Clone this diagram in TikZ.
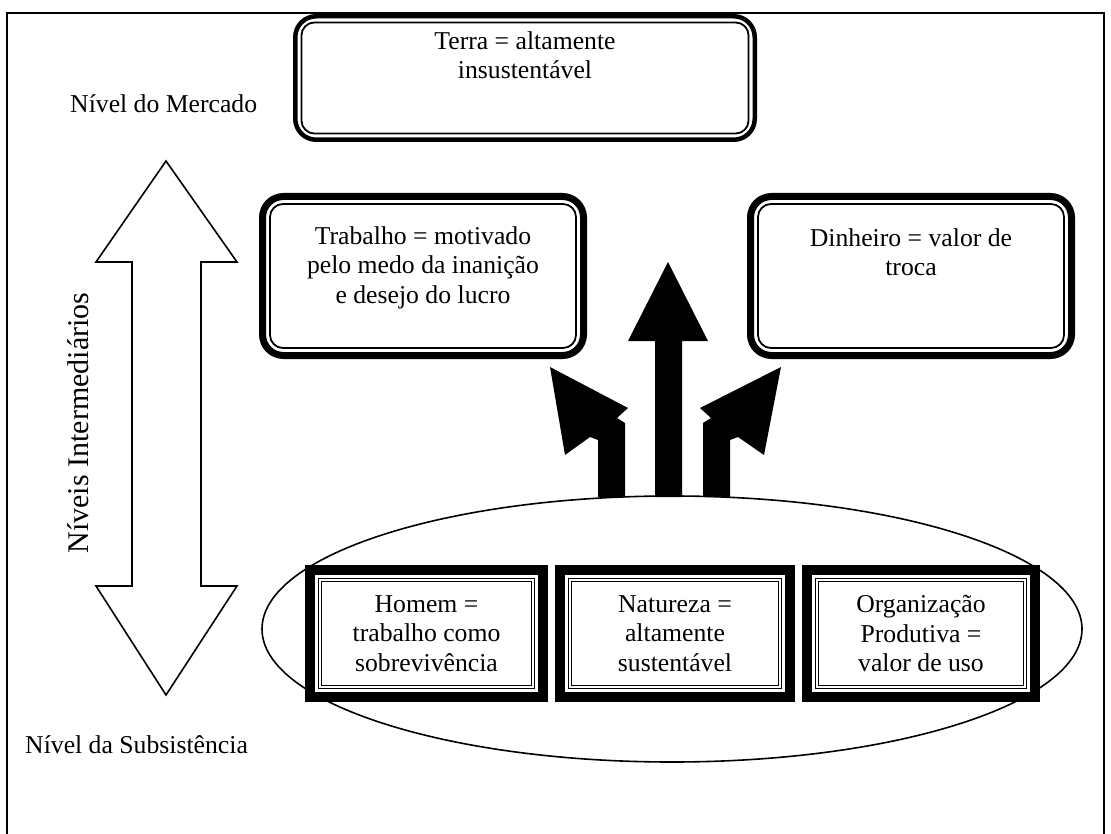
\documentclass[tikz,border=0pt]{standalone}
\usepackage{fontspec}
\setmainfont{Liberation Serif}
\begin{document}
\begin{tikzpicture}[x=1pt,y=-1pt,
  txt/.style={font=\fontsize{25.7}{29.4}\selectfont, align=center, inner sep=0pt},
  sidelabel/.style={font=\fontsize{25.7}{29.4}\selectfont, inner sep=0pt, anchor=west},
  rbox/.style={draw, line width=#1, rounded corners=21pt, inner sep=0pt, outer sep=0pt, fill=white},
  innerr/.style={draw, line width=1.8pt, rounded corners=13pt},
  sqbox/.style={draw, line width=10pt, inner sep=0pt, outer sep=0pt, fill=white,
    font=\fontsize{25.7}{29.4}\selectfont, align=center, minimum width=#1, minimum height=127pt},
  innersq/.style={draw, line width=1.3pt, double=white, double distance=1.6pt},
  blackarrow/.style={fill=black, draw=none},
  outlinearrow/.style={draw, line width=1.6pt, fill=white, line join=miter},
]
\useasboundingbox (0,0) rectangle (1111,834);
% outer frame
\draw[line width=2pt] (7,834) -- (7,13) -- (1104,13) -- (1104,834);

% side labels
\node[sidelabel] (mercado) at (70,104) {Nível do Mercado};
\node[sidelabel] (subsist) at (25,745) {Nível da Subsistência};
\node[font=\fontsize{30}{34}\selectfont, inner sep=0pt, rotate=90] (interm) at (78,423) {Níveis Intermediários};

% double-headed outline arrow
\draw[outlinearrow] (166,161) -- (237,262) -- (201,262) -- (201,586) -- (237,586) -- (166,695)
  -- (96,586) -- (132,586) -- (132,262) -- (96,262) -- cycle;

% ellipse
\draw[line width=1.6pt, fill=white] (672,629) ellipse [x radius=410pt, y radius=133pt];

% black arrows
\fill[blackarrow] (668,262) -- (708,341) -- (682,341) -- (682,497) -- (655,497) -- (655,341) -- (628,341) -- cycle;
\fill[blackarrow] (598,497) -- (598,440) -- (590,437) -- (565,455) -- (550,367) -- (628,408)
  -- (617,418) -- (625,423) -- (625,497) -- cycle;
\fill[blackarrow] (730,497) -- (730,440) -- (738,437) -- (764,455) -- (781,367) -- (700,408)
  -- (711,418) -- (703,423) -- (703,497) -- cycle;

% top rounded boxes
\node[rbox=4.5pt, minimum width=459.5pt, minimum height=123.5pt] (terra) at (525,78) {};
\draw[innerr] ([xshift=6.2pt,yshift=-6.2pt]terra.north west) rectangle ([xshift=-6.2pt,yshift=6.2pt]terra.south east);
\node[txt] (terraT) at (525,55) {Terra = altamente\\insustentável};

\node[rbox=7pt, minimum width=321pt, minimum height=159pt] (trab) at (423,276) {};
\draw[innerr] ([xshift=7.5pt,yshift=-7.5pt]trab.north west) rectangle ([xshift=-7.5pt,yshift=7.5pt]trab.south east);
\node[txt] (trabT) at (423,267.5) {Trabalho = motivado\\pelo medo da inanição\\e desejo do lucro};

\node[rbox=7pt, minimum width=321pt, minimum height=159pt] (dinh) at (911,276) {};
\draw[innerr] ([xshift=7.5pt,yshift=-7.5pt]dinh.north west) rectangle ([xshift=-7.5pt,yshift=7.5pt]dinh.south east);
\node[txt] (dinhT) at (911,252) {Dinheiro = valor de\\troca};

% bottom square boxes
\node[sqbox=233pt] (homem) at (426.5,633.5) {Homem =\\trabalho como\\sobrevivência};
\draw[innersq] ([xshift=10pt,yshift=-10pt]homem.north west) rectangle ([xshift=-10pt,yshift=10pt]homem.south east);
\node[sqbox=230pt] (natur) at (675,633.5) {Natureza =\\altamente\\sustentável};
\draw[innersq] ([xshift=10pt,yshift=-10pt]natur.north west) rectangle ([xshift=-10pt,yshift=10pt]natur.south east);
\node[sqbox=228pt] (organ) at (921,633.5) {Organização\\Produtiva =\\valor de uso};
\draw[innersq] ([xshift=10pt,yshift=-10pt]organ.north west) rectangle ([xshift=-10pt,yshift=10pt]organ.south east);
\end{tikzpicture}
\end{document}
